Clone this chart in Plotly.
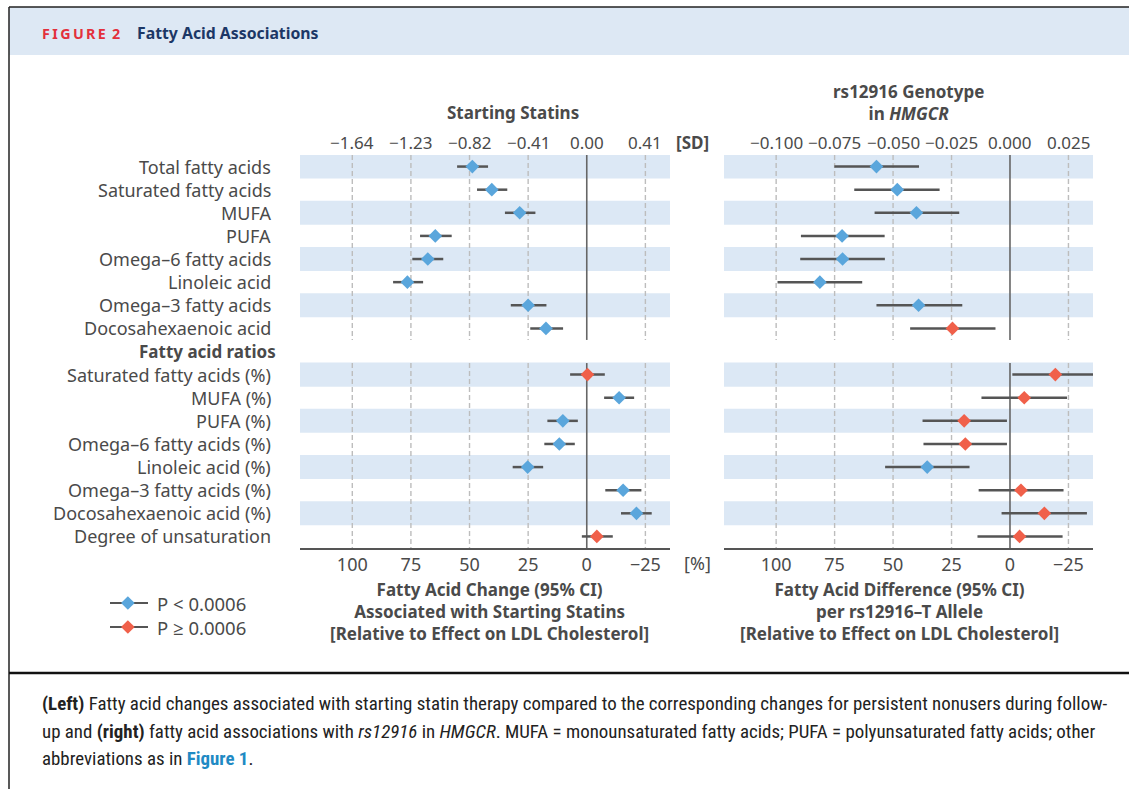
import plotly.graph_objects as go

W, H = 1129, 789

# ---------------- data ----------------
fa_labels = ["Total fatty acids", "Saturated fatty acids", "MUFA", "PUFA",
             "Omega–6 fatty acids", "Linoleic acid", "Omega–3 fatty acids",
             "Docosahexaenoic acid"]
ratio_labels = ["Saturated fatty acids (%)", "MUFA (%)", "PUFA (%)",
                "Omega–6 fatty acids (%)", "Linoleic acid (%)",
                "Omega–3 fatty acids (%)", "Docosahexaenoic acid (%)",
                "Degree of unsaturation"]
row_labels = fa_labels + ratio_labels
group_headers = ["Fatty acids", "Fatty acid ratios"]

# Starting statins: % relative to LDL-C effect
statin_est = [48.8, 40.5, 28.6, 64.6, 67.8, 76.5, 25.0, 17.4,
              -0.3, -13.8, 10.2, 11.7, 25.2, -15.5, -21.2, -4.3]
statin_ci_a = [55.3, 46.8, 34.9, 71.1, 74.4, 82.6, 32.4, 24.1,
               7.1, -7.4, 16.8, 18.1, 31.6, -7.9, -14.6, 2.1]
statin_ci_b = [42.1, 33.9, 21.9, 57.6, 61.2, 69.8, 17.2, 10.1,
               -7.7, -20.2, 3.8, 5.1, 18.6, -23.3, -27.7, -11.1]
statin_sig = [1, 1, 1, 1, 1, 1, 1, 1, 0, 1, 1, 1, 1, 1, 1, 0]

# rs12916 genotype: % relative to LDL-C effect
gene_est = [57.1, 48.2, 40.0, 71.8, 71.6, 81.3, 39.1, 24.6,
            -19.4, -6.1, 19.6, 19.1, 35.4, -4.7, -14.7, -4.1]
gene_ci_a = [75.1, 66.6, 57.9, 89.4, 89.7, 99.4, 57.1, 42.7,
             -1.0, 12.2, 37.4, 37.0, 53.4, 13.4, 3.6, 13.9]
gene_ci_b = [38.9, 30.1, 21.7, 53.6, 53.5, 63.2, 20.4, 6.2,
             -38.0, -24.4, 1.3, 1.3, 17.3, -22.9, -32.9, -22.5]
gene_sig = [1, 1, 1, 1, 1, 1, 1, 0, 0, 0, 0, 0, 1, 0, 0, 0]

pct_ticks = [100, 75, 50, 25, 0, -25]
pct_ticktext = ["100", "75", "50", "25", "0", "−25"]
sd_ticktext = ["−1.64", "−1.23", "−0.82", "−0.41", "0.00", "0.41"]
gene_ticktext = ["−0.100", "−0.075", "−0.050", "−0.025", "0.000", "0.025"]

legend_names = ["P < 0.0006", "P ≥ 0.0006"]

# ---------------- style ----------------
FONT = "Noto Sans, Open Sans, DejaVu Sans, sans-serif"
TXT = "#4a4a4a"
BLUE = "#5aa6dc"
RED = "#f0604a"
CI = "#555555"
BAND = "#dce8f5"
GRID = "#bdbdbd"

rows = list(range(0, 8)) + list(range(9, 17))
band_rows = [0, 2, 4, 6, 9, 11, 13, 15]
XR = [122.3, -35.5]

fig = go.Figure()

def add_panel(xa, ya, est, ca, cb, sig):
    xs, ys = [], []
    for a, b, r in zip(ca, cb, rows):
        xs += [a, b, None]
        ys += [r, r, None]
    fig.add_trace(go.Scatter(x=xs, y=ys, mode="lines", xaxis=xa, yaxis=ya,
                             line=dict(color=CI, width=2.5), showlegend=False,
                             hoverinfo="skip"))
    for flag, col in [(1, BLUE), (0, RED)]:
        fig.add_trace(go.Scatter(
            x=[e for e, s in zip(est, sig) if s == flag],
            y=[r for r, s in zip(rows, sig) if s == flag],
            mode="markers", xaxis=xa, yaxis=ya, showlegend=False,
            marker=dict(symbol="diamond", size=10.5, color=col, line=dict(width=0))))

add_panel("x", "y", statin_est, statin_ci_a, statin_ci_b, statin_sig)
add_panel("x2", "y2", gene_est, gene_ci_a, gene_ci_b, gene_sig)

# legend (drawn on its own small axis)
for i, col in enumerate([BLUE, RED]):
    fig.add_trace(go.Scatter(x=[0, 1], y=[i, i], mode="lines", xaxis="x3", yaxis="y3",
                             line=dict(color=CI, width=2), showlegend=False,
                             hoverinfo="skip"))
    fig.add_trace(go.Scatter(x=[0.47], y=[i], mode="markers", xaxis="x3", yaxis="y3",
                             marker=dict(symbol="diamond", size=10.5, color=col,
                                         line=dict(width=0)),
                             showlegend=False, hoverinfo="skip"))

shapes = []
for xr, yr in [("x", "y"), ("x2", "y2")]:
    for r in band_rows:
        shapes.append(dict(type="rect", xref=xr + " domain", yref=yr, x0=0, x1=1,
                           y0=r - 0.52, y1=r + 0.52, fillcolor=BAND,
                           line=dict(width=0), layer="below"))
    for t in pct_ticks:
        for y0, y1 in [(-0.5, 7.5), (8.5, 16.5)]:
            if t == 0:
                shapes.append(dict(type="line", xref=xr, yref=yr, x0=t, x1=t, y0=y0, y1=y1,
                                   line=dict(color="#666666", width=1.6), layer="below"))
            else:
                shapes.append(dict(type="line", xref=xr, yref=yr, x0=t, x1=t, y0=y0, y1=y1,
                                   line=dict(color=GRID, width=1.4, dash="5px,3px"),
                                   layer="below"))

# frame / header
shapes.append(dict(type="rect", xref="paper", yref="paper", x0=9 / W, x1=1.01,
                   y0=1 - 55 / H, y1=1 - 7 / H, fillcolor="#dde8f4", line=dict(width=0),
                   layer="below"))
shapes.append(dict(type="line", xref="paper", yref="paper", x0=9 / W, x1=1.01,
                   y0=1 - 7 / H, y1=1 - 7 / H, line=dict(color="#222222", width=1.5)))
shapes.append(dict(type="line", xref="paper", yref="paper", x0=9 / W, x1=9 / W,
                   y0=-0.01, y1=1 - 7 / H, line=dict(color="#222222", width=1.5)))
shapes.append(dict(type="line", xref="paper", yref="paper", x0=9 / W, x1=1.01,
                   y0=1 - 673 / H, y1=1 - 673 / H, line=dict(color="#111111", width=2.5)))

ann = []
def A(text, x, y, xref="paper", yref="paper", size=17, color=TXT, xanchor="center",
      yanchor="middle", family=FONT, align="center", height=None):
    d = dict(text=text, x=x, y=y, xref=xref, yref=yref, showarrow=False,
             font=dict(size=size, color=color, family=family),
             xanchor=xanchor, yanchor=yanchor, align=align)
    if height:
        d["height"] = height
    ann.append(d)

# header
A("<b>F\u2009I\u2009G\u2009U\u2009R\u2009E\u2009 2</b>", 40 / W, 1 - 33 / H, size=14.3,
  color="#e3303c", xanchor="left")
A("<b>Fatty Acid Associations</b>", 135 / W, 1 - 33 / H, size=15.8, color="#1c3766",
  xanchor="left")

# panel titles
A("<b>Starting Statins</b>", 513 / W, 1 - 113 / H)
A("<b>rs12916 Genotype<br>in <i>HMGCR</i></b>", 908 / W, 1 - 102 / H)

# row labels
for lab, r in zip(row_labels, rows):
    A(lab, 273 / W, r, yref="y", xanchor="right", size=18)
A("<b>" + group_headers[0] + "</b>", 278 / W, -1, yref="y", xanchor="right")
A("<b>" + group_headers[1] + "</b>", 278 / W, 8, yref="y", xanchor="right")

# top scales
for t, s1, s2 in zip(pct_ticks, sd_ticktext, gene_ticktext):
    A(s1, t, 1 - 143 / H, xref="x")
    A(s2, t, 1 - 143 / H, xref="x2")
A("<b>[SD]</b>", 692 / W, 1 - 143 / H)
A("[%]", 697 / W, 1 - 563 / H, size=18)

# legend texts
for i, name in enumerate(legend_names):
    A(name, 155 / W, i, yref="y3", xanchor="left", size=18.5, height=22)

# bottom titles
A("<b>Fatty Acid Change (95% CI)<br>Associated with Starting Statins<br>"
  "[Relative to Effect on LDL Cholesterol]</b>", 489 / W, 1 - 611 / H)
A("<b>Fatty Acid Difference (95% CI)<br>per rs12916–T Allele<br>"
  "[Relative to Effect on LDL Cholesterol]</b>", 900 / W, 1 - 611 / H)

# caption
CAP = "Liberation Sans Narrow, Roboto Condensed, DejaVu Sans Condensed, Roboto, sans-serif"
cap_lines = [
    "<b>(Left)</b> Fatty acid changes associated with starting statin therapy compared to the "
    "corresponding changes for persistent nonusers during follow-",
    "up and <b>(right)</b> fatty acid associations with <i>rs12916</i> in <i>HMGCR</i>. MUFA = "
    "monounsaturated fatty acids; PUFA = polyunsaturated fatty acids; other",
    "abbreviations as in <b><span style='color:#1f8ac4'>Figure 1</span></b>.",
]
for line, yy in zip(cap_lines, [703, 731, 758]):
    A(line, 40 / W, 1 - yy / H, size=18.9, color="#222222", xanchor="left", family=CAP,
      align="left")

axis_common = dict(range=XR, tickvals=pct_ticks, ticktext=pct_ticktext, showgrid=False,
                   zeroline=False, showline=True, linecolor="#555555", linewidth=1.5,
                   ticks="", tickfont=dict(size=18, color=TXT, family=FONT),
                   ticklabelstandoff=0, fixedrange=True)
yaxis_common = dict(range=[16.5, -0.5], visible=False, fixedrange=True,
                    domain=[1 - 548 / H, 1 - 155 / H])

fig.update_layout(
    width=W, height=H, margin=dict(l=0, r=0, t=0, b=0),
    paper_bgcolor="white", plot_bgcolor="rgba(0,0,0,0)",
    font=dict(family=FONT, color=TXT, size=17),
    xaxis=dict(domain=[300 / W, 670 / W], anchor="y", **axis_common),
    xaxis2=dict(domain=[724 / W, 1093 / W], anchor="y2", **axis_common),
    yaxis=dict(anchor="x", **yaxis_common),
    yaxis2=dict(anchor="x2", **yaxis_common),
    xaxis3=dict(domain=[110 / W, 148 / W], range=[0, 1], visible=False, anchor="y3",
                fixedrange=True),
    yaxis3=dict(domain=[1 - 639 / H, 1 - 591 / H], range=[1.5, -0.5], visible=False,
                anchor="x3", fixedrange=True),
    shapes=shapes, annotations=ann,
    showlegend=False,
)

fig.write_html("out.html", post_script="document.body.style.margin='0';",
               config={"displayModeBar": False})
